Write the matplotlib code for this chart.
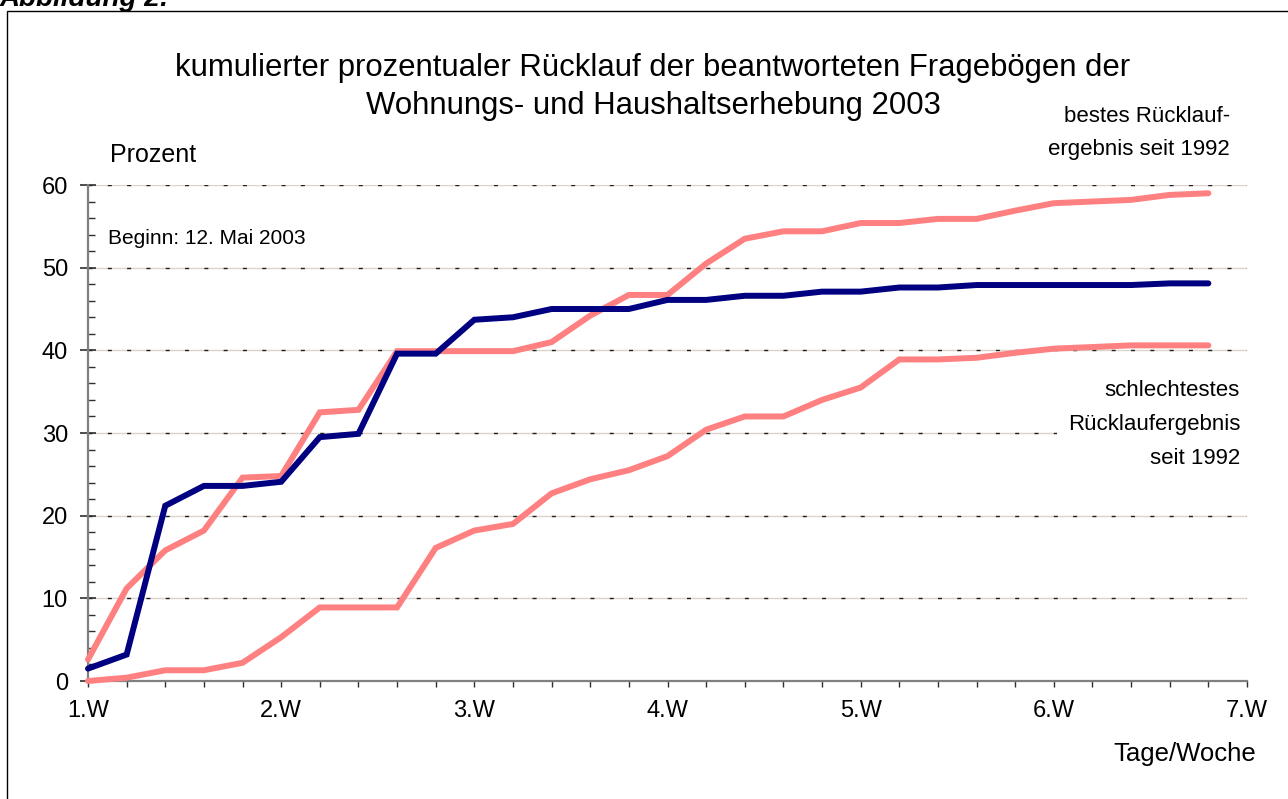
import matplotlib
matplotlib.use("Agg")
import matplotlib.pyplot as plt
from matplotlib.patches import Rectangle
from matplotlib.ticker import MultipleLocator

plt.rcParams['font.family'] = ['Liberation Sans', 'DejaVu Sans']

# ---- data ----
days = [1.0, 1.2, 1.4, 1.6, 1.8, 2.0, 2.2, 2.4, 2.6, 2.8,
        3.0, 3.2, 3.4, 3.6, 3.8, 4.0, 4.2, 4.4, 4.6, 4.8,
        5.0, 5.2, 5.4, 5.6, 5.8, 6.0, 6.2, 6.4, 6.6, 6.8]
ruecklauf_2003 = [1.5, 3.2, 21.2, 23.6, 23.6, 24.1, 29.5, 29.9, 39.6, 39.6,
                  43.7, 44.0, 45.0, 45.0, 45.0, 46.1, 46.1, 46.6, 46.6, 47.1,
                  47.1, 47.6, 47.6, 47.9, 47.9, 47.9, 47.9, 47.9, 48.1, 48.1]
bestes = [2.6, 11.2, 15.8, 18.2, 24.6, 24.8, 32.5, 32.8, 39.9, 39.9,
          39.9, 39.9, 41.0, 44.2, 46.7, 46.7, 50.5, 53.5, 54.4, 54.4,
          55.4, 55.4, 55.9, 55.9, 56.9, 57.8, 58.0, 58.2, 58.8, 59.0]
schlechtestes = [0.0, 0.4, 1.3, 1.3, 2.2, 5.3, 8.9, 8.9, 8.9, 16.1,
                 18.2, 19.0, 22.7, 24.4, 25.5, 27.2, 30.4, 32.0, 32.0, 34.0,
                 35.5, 38.9, 38.9, 39.1, 39.7, 40.2, 40.4, 40.6, 40.6, 40.6]
week_ticks = [1, 2, 3, 4, 5, 6, 7]
week_labels = ['1.W', '2.W', '3.W', '4.W', '5.W', '6.W', '7.W']
y_ticks = [0, 10, 20, 30, 40, 50, 60]

W, H = 1288, 799
fig = plt.figure(figsize=(W / 100, H / 100), dpi=100)
fig.patch.set_facecolor('white')

# outer frame
fig.add_artist(Rectangle((7 / W, -0.02), 1.05, (1 - 11 / H) + 0.02,
                         transform=fig.transFigure, fill=False,
                         ec='black', lw=1.0))
fig.text(0.0, 1 - 6.5 / H, 'Abbildung 2:', fontsize=20, fontweight='bold',
         fontstyle='italic', ha='left', va='baseline')

ax = fig.add_axes([88 / W, 1 - 681 / H, (1247 - 88) / W, (681 - 185) / H])
ax.set_xlim(1, 7)
ax.set_ylim(0, 60)

# gridlines: light solid + dark dashes
for yv in y_ticks[1:]:
    ax.axhline(yv, color='#DCD4CC', lw=1.0, zorder=1)
    ax.axhline(yv, color='#202020', lw=1.0, dashes=(2.9, 11), zorder=1.1)

ax.plot(days, bestes, color='#FF8080', lw=4.3, solid_capstyle='round',
        solid_joinstyle='miter', zorder=3, clip_on=False)
ax.plot(days, schlechtestes, color='#FF8080', lw=4.3, solid_capstyle='round',
        solid_joinstyle='miter', zorder=3, clip_on=False)
ax.plot(days, ruecklauf_2003, color='#000080', lw=4.3, solid_capstyle='round',
        solid_joinstyle='miter', zorder=4, clip_on=False)

for s in ['top', 'right']:
    ax.spines[s].set_visible(False)
for s in ['left', 'bottom']:
    ax.spines[s].set_color('#808080')
    ax.spines[s].set_linewidth(1.6)

ax.set_yticks(y_ticks)
ax.yaxis.set_minor_locator(MultipleLocator(2))
ax.set_xticks(week_ticks)
ax.set_xticklabels(week_labels)
ax.xaxis.set_minor_locator(MultipleLocator(0.2))

ax.tick_params(axis='y', which='major', direction='inout', length=12,
               width=1.2, color='#303030', labelsize=17, pad=8.5)
ax.tick_params(axis='y', which='minor', direction='in', length=5,
               width=1.0, color='#303030')
ax.tick_params(axis='x', which='both', direction='out', length=4.5,
               width=1.0, color='#303030')
ax.tick_params(axis='x', which='major', labelsize=17, pad=9.5)

# title
fig.text(653 / W, 1 - 87 / H,
         'kumulierter prozentualer Rücklauf der beantworteten Fragebögen der\n'
         'Wohnungs- und Haushaltserhebung 2003',
         ha='center', va='center', fontsize=22.4, linespacing=1.34)

fig.text(110 / W, 1 - 155 / H, 'Prozent', ha='left', va='center', fontsize=18)
fig.text(108 / W, 1 - 238 / H, 'Beginn: 12. Mai 2003',
         ha='left', va='center', fontsize=15)
fig.text(1185 / W, 1 - 754 / H, 'Tage/Woche', ha='center', va='center',
         fontsize=18.5)

fig.text(1230 / W, 1 - 133 / H, 'bestes Rücklauf-\nergebnis seit 1992',
         ha='right', va='center', fontsize=16, linespacing=1.7)
fig.text(1240 / W, 1 - 424.5 / H, 'schlechtestes\nRücklaufergebnis\nseit 1992',
         ha='right', va='center', fontsize=16, linespacing=1.8,
         bbox=dict(facecolor='white', edgecolor='none', pad=8), zorder=5)

fig.savefig('out.png', dpi=100, facecolor='white')
